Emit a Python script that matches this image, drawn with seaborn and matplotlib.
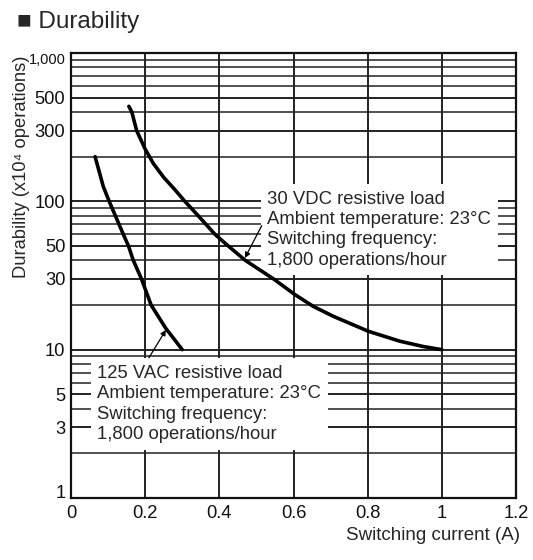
import matplotlib
matplotlib.use("Agg")
import matplotlib.pyplot as plt
from matplotlib.ticker import NullFormatter
import pandas as pd
import seaborn as sns

# ====== DATA ======
# 125 VAC resistive load curve
vac_current = [0.065, 0.087, 0.103, 0.1295, 0.141, 0.155, 0.168, 0.19, 0.216, 0.255, 0.3]
vac_durability = [200, 126, 100, 70, 60, 50, 40, 30, 20, 14, 10]

# 30 VDC resistive load curve
dc_current = [0.156, 0.164, 0.177, 0.2, 0.222, 0.25, 0.28, 0.307, 0.343, 0.388,
              0.42, 0.47, 0.546, 0.604, 0.653, 0.707, 0.802, 0.887, 0.95, 1.0]
dc_durability = [437, 400, 300, 225, 180, 145, 120, 100, 80, 60,
                 51, 40, 30, 23.5, 19.6, 16.8, 13.3, 11.4, 10.5, 10]

x_ticks = [0, 0.2, 0.4, 0.6, 0.8, 1.0, 1.2]
x_tick_labels = ["0", "0.2", "0.4", "0.6", "0.8", "1", "1.2"]
y_ticks = [1, 3, 5, 10, 30, 50, 100, 300, 500, 1000]
y_tick_labels = ["1", "3", "5", "10", "30", "50", "100", "300", "500", "1,000"]
y_minor = [2, 4, 6, 7, 8, 9, 20, 40, 60, 70, 80, 90, 200, 400, 600, 700, 800, 900]

dc_note = "30 VDC resistive load\nAmbient temperature: 23°C\nSwitching frequency:\n1,800 operations/hour"
vac_note = "125 VAC resistive load\nAmbient temperature: 23°C\nSwitching frequency:\n1,800 operations/hour"

# ====== STYLE ======
sns.set_style("white")
plt.rcParams['font.family'] = ['Liberation Sans', 'DejaVu Sans']

fig = plt.figure(figsize=(5.33, 5.6), dpi=100)
ax = fig.add_axes([71 / 533, 1 - 498 / 560, 445 / 533, 445 / 560])

# ====== CURVES ======
df_vac = pd.DataFrame({"current": vac_current, "durability": vac_durability})
df_dc = pd.DataFrame({"current": dc_current, "durability": dc_durability})
sns.lineplot(data=df_vac, x="current", y="durability", ax=ax, color="black",
             lw=2.6, sort=False, zorder=4)
sns.lineplot(data=df_dc, x="current", y="durability", ax=ax, color="black",
             lw=2.6, sort=False, zorder=4)

# ====== AXES ======
ax.set_yscale('log')
ax.set_xlim(0, 1.2)
ax.set_ylim(1, 1000)
ax.set_xticks(x_ticks)
ax.set_xticklabels(x_tick_labels)
ax.set_yticks(y_ticks)
ax.set_yticklabels(y_tick_labels)
ax.set_yticks(y_minor, minor=True)
ax.yaxis.set_minor_formatter(NullFormatter())
ax.tick_params(axis='both', which='both', length=0, labelsize=13.2, colors='#111')
ax.tick_params(axis='y', pad=4)
ax.tick_params(axis='x', pad=5)

# edge labels sit inside the frame in the reference
ylabels = ax.get_yticklabels()
ylabels[-1].set_va('top')
ylabels[-1].set_fontsize(10.5)
ylabels[0].set_va('baseline')

ax.set_axisbelow(True)
ax.grid(which='major', axis='both', color='#222', lw=1.4)
ax.grid(which='minor', axis='y', color='#222', lw=1.1)
for s in ax.spines.values():
    s.set_color('#111')
    s.set_linewidth(1.6)

ax.set_xlabel("Switching current (A)", fontsize=13.5, loc='right')
ax.xaxis.set_label_coords(1.009, -0.065)
ax.set_ylabel("Durability (x10⁴ operations)", fontsize=13.2)
ax.yaxis.set_label_coords(-0.093, 0.745)

# ====== NOTES ======
box = dict(boxstyle='square,pad=0.35', fc='white', ec='none')
ax.text(0.441, 0.603, dc_note, transform=ax.transAxes, fontsize=13.3,
        ha='left', va='center', linespacing=1.26, bbox=box, zorder=3)
ax.text(0.0591, 0.2112, vac_note, transform=ax.transAxes, fontsize=13.3,
        ha='left', va='center', linespacing=1.26, bbox=box, zorder=3)

arrow = dict(arrowstyle='-|>', color='black', lw=0.9, mutation_scale=8,
             shrinkA=0, shrinkB=0)
ax.annotate("", xy=(0.469, 41.5), xycoords='data',
            xytext=(0.4285, 0.612), textcoords='axes fraction',
            arrowprops=arrow, zorder=5)
ax.annotate("", xy=(0.256, 13.6), xycoords='data',
            xytext=(0.175, 0.315), textcoords='axes fraction',
            arrowprops=arrow, zorder=5)

# ====== TITLE ======
fig.text(17 / 533, 1 - 22 / 560, "■ Durability", fontsize=17.5,
         ha='left', va='center')

fig.savefig("out.png", dpi=100)
